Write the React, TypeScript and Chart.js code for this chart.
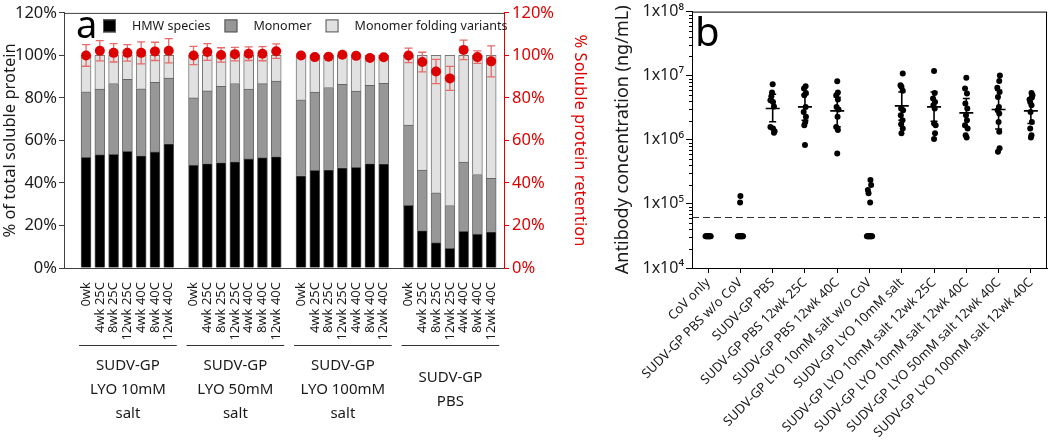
import React, { useEffect, useRef } from "react";
import { Chart, registerables } from "chart.js";

Chart.register(...registerables);

const FONT = '"Noto Sans", sans-serif';
const INK = "#1a1a1a";
const RED = "#e00000";

// ---------------- Panel a data ----------------
const timeLabels = ["0wk", "4wk 25C", "8wk 25C", "12wk 25C", "4wk 40C", "8wk 40C", "12wk 40C"];
const formulationLabels = [
  ["SUDV-GP", "LYO 10mM", "salt"],
  ["SUDV-GP", "LYO 50mM", "salt"],
  ["SUDV-GP", "LYO 100mM", "salt"],
  ["SUDV-GP", "PBS"],
];
const hmwSpecies = [
  52.1, 53.3, 53.5, 54.9, 52.9, 54.6, 58.4,
  48.4, 49.1, 49.6, 50.1, 51.3, 51.9, 52.4,
  43.4, 45.9, 46.2, 47.1, 47.3, 49.1, 49.0,
  29.5, 17.6, 11.9, 9.3, 17.3, 15.9, 17.0,
];
const monomer = [
  30.8, 30.9, 33.3, 33.9, 31.4, 32.7, 30.9,
  31.6, 34.2, 35.8, 36.7, 32.9, 34.8, 35.5,
  35.7, 36.9, 38.7, 39.3, 35.9, 36.8, 37.9,
  37.7, 28.5, 23.5, 20.1, 32.5, 28.1, 25.2,
];
const foldingVariants = [
  17.1, 15.8, 13.2, 11.2, 15.7, 12.7, 10.7,
  20.0, 16.7, 14.6, 13.2, 15.8, 13.3, 12.1,
  20.9, 17.2, 15.1, 13.6, 16.8, 14.1, 13.1,
  32.8, 53.9, 64.6, 70.6, 50.2, 56.0, 57.8,
];
const retention = [
  100, 102.2, 101.2, 101.2, 101.2, 101.9, 102.2,
  100, 101.6, 100.2, 100.6, 100.8, 100.8, 102.0,
  100, 99.2, 99.4, 100.3, 99.8, 98.8, 99.1,
  100, 96.9, 92.4, 89.2, 102.6, 99.2, 97.2,
];
const retentionErr = [
  5.1, 4.8, 4.3, 3.9, 5.2, 4.3, 5.7,
  4.3, 3.9, 3.4, 3.2, 3.2, 3.3, 3.4,
  0.8, 0.8, 0.8, 0.8, 0.8, 0.8, 0.8,
  3.4, 4.6, 5.7, 5.6, 4.6, 2.9, 7.3,
];
const pctTicks = [0, 20, 40, 60, 80, 100, 120];

// ---------------- Panel b data ----------------
const groupLabels = [
  "CoV only",
  "SUDV-GP PBS w/o CoV",
  "SUDV-GP PBS",
  "SUDV-GP PBS 12wk 25C",
  "SUDV-GP PBS 12wk 40C",
  "SUDV-GP LYO 10mM salt w/o CoV",
  "SUDV-GP LYO 10mM salt",
  "SUDV-GP LYO 10mM salt 12wk 25C",
  "SUDV-GP LYO 10mM salt 12wk 40C",
  "SUDV-GP LYO 50mM salt 12wk 40C",
  "SUDV-GP LYO 100mM salt 12wk 40C",
];
const HALF_LOD = 31250;
const pointValues = [
  [HALF_LOD, HALF_LOD, HALF_LOD, HALF_LOD, HALF_LOD, HALF_LOD, HALF_LOD, HALF_LOD, HALF_LOD],
  [133000, 105000, HALF_LOD, HALF_LOD, HALF_LOD, HALF_LOD, HALF_LOD, HALF_LOD, HALF_LOD, HALF_LOD, HALF_LOD],
  [7350000, 5460000, 4780000, 4140000, 3900000, 3300000, 1590000, 1500000, 1360000, 1290000],
  [6840000, 6300000, 5380000, 4950000, 3260000, 2720000, 2280000, 1900000, 1690000, 830000],
  [8200000, 5460000, 4950000, 4250000, 3260000, 2970000, 2280000, 1590000, 1420000, 610000],
  [236000, 197000, 165000, 147000, 105000, HALF_LOD, HALF_LOD, HALF_LOD, HALF_LOD, HALF_LOD, HALF_LOD, HALF_LOD, HALF_LOD, HALF_LOD],
  [10800000, 7100000, 6700000, 5800000, 3080000, 2900000, 2420000, 2020000, 1750000, 1500000, 1260000],
  [11800000, 5380000, 4400000, 3900000, 3470000, 3080000, 1800000, 1690000, 1260000, 1030000],
  [9300000, 6300000, 5270000, 3680000, 3080000, 2420000, 2020000, 1690000, 1500000, 1180000, 1090000],
  [10100000, 8300000, 6500000, 5570000, 4670000, 3260000, 2900000, 2570000, 1900000, 1330000, 735000, 650000],
  [5380000, 4950000, 4560000, 4250000, 3900000, 3470000, 2720000, 1900000, 1500000, 1180000, 1090000],
];
const pointJitter = [
  [-0.08, -0.06, -0.04, -0.02, 0, 0.02, 0.04, 0.06, 0.08],
  [0, -0.01, -0.08, -0.06, -0.04, -0.02, 0, 0.02, 0.04, 0.06, 0.08],
  [0, -0.02, -0.04, -0.07, 0.01, 0.04, -0.07, 0.01, 0.06, 0.04],
  [0.02, -0.03, 0.03, -0.02, 0.02, -0.04, 0.03, 0.01, -0.02, 0],
  [0, 0.02, -0.03, 0.02, -0.02, 0.04, 0.01, -0.03, 0.02, 0],
  [0.03, 0.05, -0.05, -0.03, 0.02, -0.08, -0.06, -0.04, -0.02, 0, 0.02, 0.04, 0.06, 0.08],
  [0.03, -0.04, -0.01, 0.03, -0.02, 0.04, -0.03, 0.02, -0.02, 0.03, -0.01],
  [0, 0.02, -0.03, 0.03, -0.02, 0.02, 0, 0.05, 0.03, 0],
  [0, -0.04, 0.02, -0.03, 0.03, -0.01, 0.02, -0.04, 0.04, -0.02, 0.01],
  [0.04, 0.02, -0.04, 0.03, -0.02, 0.01, -0.03, 0.02, 0, 0.02, 0.03, -0.02],
  [0.02, 0.05, 0.03, -0.04, -0.02, 0.02, -0.01, 0.03, -0.02, 0.02, 0],
];
const groupMean = [null, null, 3080000, 3260000, 2830000, null, 3380000, 3260000, 2630000, 2970000, 2830000];
const groupSdHigh = [null, null, 5140000, 5080000, 4600000, null, 5570000, 5570000, 4400000, 5930000, 4400000];
const groupSdLow = [null, null, 1910000, 2020000, 1590000, null, 2020000, 1950000, 1590000, 1470000, 1800000];
const LOD = 62500;
const logTickValues = [10000, 100000, 1000000, 10000000, 100000000];
const logTickLabels = ["1x10⁴", "1x10⁵", "1x10⁶", "1x10⁷", "1x10⁸"];
const minorMultipliers = [2, 3, 4, 5, 6, 7, 8, 9];

// ---------------- layout constants ----------------
const GROUP_STRIDE = 7.8;
const A_WIDTH = 595;
const B_LEFT = 595;
const B_WIDTH = 455;
const H = 442;

function PanelA() {
  const ref = useRef<HTMLCanvasElement | null>(null);
  useEffect(() => {
    const xs = hmwSpecies.map((_, k) => Math.floor(k / 7) * GROUP_STRIDE + (k % 7));
    const toXY = (arr: number[]) => arr.map((v, k) => ({ x: xs[k], y: v }));

    const errorBars = {
      id: "errorBars",
      beforeDatasetDraw(chart: any, args: any) {
        if (args.index !== 0) return;
        const ctx = chart.ctx;
        const x = chart.scales.x;
        const y = chart.scales.y2;
        ctx.save();
        ctx.strokeStyle = "#e86a6a";
        ctx.lineWidth = 1.3;
        retention.forEach((v, k) => {
          const e = retentionErr[k];
          const px = x.getPixelForValue(xs[k]);
          const t = y.getPixelForValue(v + e);
          const b = y.getPixelForValue(v - e);
          ctx.beginPath();
          ctx.moveTo(px, t);
          ctx.lineTo(px, b);
          ctx.moveTo(px - 4, t);
          ctx.lineTo(px + 4, t);
          ctx.moveTo(px - 4, b);
          ctx.lineTo(px + 4, b);
          ctx.stroke();
        });
        ctx.restore();
      },
    };

    const decorations = {
      id: "decorA",
      afterDraw(chart: any) {
        const ctx = chart.ctx;
        const { left, right, top, bottom } = chart.chartArea;
        const x = chart.scales.x;
        ctx.save();
        // top frame line
        ctx.strokeStyle = "#404040";
        ctx.lineWidth = 1;
        ctx.beginPath();
        ctx.moveTo(left, top + 0.5);
        ctx.lineTo(right, top + 0.5);
        ctx.stroke();
        // panel letter
        ctx.fillStyle = "#000";
        ctx.font = `38px ${FONT}`;
        ctx.textAlign = "left";
        ctx.textBaseline = "alphabetic";
        ctx.fillText("a", left + 12, top + 25);
        // inside legend
        ctx.font = `12.5px ${FONT}`;
        ctx.textBaseline = "middle";
        let lx = left + 39;
        const ly = top + 13;
        chart.data.datasets.forEach((ds: any) => {
          if (ds.type !== "bar") return;
          ctx.fillStyle = ds.backgroundColor;
          ctx.fillRect(lx, ly - 6.5, 13, 13);
          ctx.strokeStyle = "#555";
          ctx.strokeRect(lx + 0.5, ly - 6, 12, 12);
          ctx.fillStyle = INK;
          ctx.fillText(ds.label, lx + 29, ly + 0.5);
          lx += 29 + ctx.measureText(ds.label).width + 14;
        });
        // formulation group lines and labels
        ctx.font = `15px ${FONT}`;
        ctx.textAlign = "center";
        ctx.textBaseline = "middle";
        formulationLabels.forEach((lines, g) => {
          const x1 = x.getPixelForValue(xs[g * 7]) - 7;
          const x2 = x.getPixelForValue(xs[g * 7 + 6]) + 8;
          const ly2 = bottom + 77.5;
          ctx.strokeStyle = "#333";
          ctx.lineWidth = 1.2;
          ctx.beginPath();
          ctx.moveTo(x1, ly2);
          ctx.lineTo(x2, ly2);
          ctx.stroke();
          const cx = (x1 + x2) / 2;
          const cy = bottom + 122;
          lines.forEach((t, i) => {
            ctx.fillStyle = INK;
            ctx.fillText(t, cx, cy + (i - (lines.length - 1) / 2) * 24);
          });
        });
        ctx.restore();
      },
    };

    const chart = new Chart(ref.current as HTMLCanvasElement, {
      type: "bar",
      data: {
        datasets: [
          {
            type: "line",
            label: "% Soluble protein retention",
            data: toXY(retention),
            yAxisID: "y2",
            showLine: false,
            pointRadius: 5,
            pointBackgroundColor: "#dd0000",
            pointBorderColor: "#dd0000",
            pointBorderWidth: 0,
          } as any,
          {
            type: "bar",
            label: "HMW species",
            data: toXY(hmwSpecies),
            yAxisID: "y",
            backgroundColor: "#000000",
            borderColor: "#555555",
            borderWidth: 1,
            barThickness: 10,
          },
          {
            type: "bar",
            label: "Monomer",
            data: toXY(monomer),
            yAxisID: "y",
            backgroundColor: "#979797",
            borderColor: "#666666",
            borderWidth: 1,
            barThickness: 10,
          },
          {
            type: "bar",
            label: "Monomer folding variants",
            data: toXY(foldingVariants),
            yAxisID: "y",
            backgroundColor: "#e1e1e1",
            borderColor: "#777777",
            borderWidth: 1,
            barThickness: 10,
          },
        ],
      },
      options: {
        animation: false,
        responsive: false,
        devicePixelRatio: 1,
        layout: { padding: { top: 10, left: 0, right: 0, bottom: 0 } },
        plugins: { legend: { display: false }, tooltip: { enabled: false } },
        scales: {
          x: {
            type: "linear",
            min: -1.6,
            max: 30.33,
            stacked: true,
            offset: false,
            grid: { display: false },
            border: { display: true, color: "#404040" },
            afterBuildTicks: (s: any) => {
              s.ticks = xs.map((v) => ({ value: v }));
            },
            afterFit: (s: any) => {
              s.height = H - 268;
            },
            ticks: {
              autoSkip: false,
              minRotation: 90,
              maxRotation: 90,
              padding: 6,
              color: INK,
              font: { family: FONT, size: 13 },
              callback: (_v: any, i: number) => timeLabels[i % timeLabels.length],
            },
          },
          y: {
            type: "linear",
            position: "left",
            min: 0,
            max: 120,
            stacked: true,
            afterBuildTicks: (s: any) => {
              s.ticks = pctTicks.map((v) => ({ value: v }));
            },
            afterFit: (s: any) => {
              s.width = 64;
            },
            grid: { drawOnChartArea: false, drawTicks: true, tickLength: 5, color: "#404040" },
            border: { color: "#404040" },
            ticks: {
              padding: 2,
              color: INK,
              font: { family: FONT, size: 16.5 },
              callback: (v: any) => `${v}%`,
            },
            title: {
              display: true,
              text: "% of total soluble protein",
              color: INK,
              font: { family: FONT, size: 16.5 },
              padding: 0,
            },
          },
          y2: {
            type: "linear",
            position: "right",
            min: 0,
            max: 120,
            afterBuildTicks: (s: any) => {
              s.ticks = pctTicks.map((v) => ({ value: v }));
            },
            afterFit: (s: any) => {
              s.width = A_WIDTH - 504;
            },
            grid: { drawOnChartArea: false, drawTicks: true, tickLength: 5, color: RED },
            border: { color: RED },
            ticks: {
              padding: 3,
              color: RED,
              font: { family: FONT, size: 16.5 },
              callback: (v: any) => `${v}%`,
            },
            title: {
              display: true,
              text: "% Soluble protein retention",
              color: RED,
              font: { family: FONT, size: 16.5 },
              padding: 5,
            },
          },
        },
      } as any,
      plugins: [errorBars, decorations],
    });
    return () => chart.destroy();
  }, []);
  return (
    <canvas
      ref={ref}
      width={A_WIDTH}
      height={H}
      style={{ position: "absolute", left: 0, top: 0, width: A_WIDTH, height: H }}
    />
  );
}

function PanelB() {
  const ref = useRef<HTMLCanvasElement | null>(null);
  useEffect(() => {
    const points: { x: number; y: number }[] = [];
    pointValues.forEach((vals, g) => {
      vals.forEach((v, i) => points.push({ x: g + pointJitter[g][i], y: v }));
    });
    const isDecade = (v: number) => logTickValues.some((d) => Math.abs(d - v) / d < 1e-6);
    const allLogTicks: number[] = [];
    logTickValues.forEach((d, i) => {
      allLogTicks.push(d);
      if (i < logTickValues.length - 1) minorMultipliers.forEach((m) => allLogTicks.push(m * d));
    });

    const decor = {
      id: "decorB",
      beforeDatasetsDraw(chart: any) {
        const ctx = chart.ctx;
        const { left, right } = chart.chartArea;
        const y = chart.scales.y;
        const py = Math.round(y.getPixelForValue(LOD)) + 0.5;
        ctx.save();
        ctx.strokeStyle = "#333";
        ctx.lineWidth = 1;
        ctx.setLineDash([7, 4]);
        ctx.beginPath();
        ctx.moveTo(left, py);
        ctx.lineTo(right, py);
        ctx.stroke();
        ctx.restore();
      },
      afterDatasetsDraw(chart: any) {
        const ctx = chart.ctx;
        const x = chart.scales.x;
        const y = chart.scales.y;
        ctx.save();
        ctx.strokeStyle = "#000";
        ctx.lineWidth = 1.6;
        groupMean.forEach((m, g) => {
          if (m === null) return;
          const px = x.getPixelForValue(g);
          const pm = y.getPixelForValue(m);
          const ph = y.getPixelForValue(groupSdHigh[g] as number);
          const pl = y.getPixelForValue(groupSdLow[g] as number);
          ctx.beginPath();
          ctx.moveTo(px - 7, pm);
          ctx.lineTo(px + 7, pm);
          ctx.moveTo(px, ph);
          ctx.lineTo(px, pl);
          ctx.moveTo(px - 3.5, ph);
          ctx.lineTo(px + 3.5, ph);
          ctx.moveTo(px - 3.5, pl);
          ctx.lineTo(px + 3.5, pl);
          ctx.stroke();
        });
        ctx.restore();
      },
      afterDraw(chart: any) {
        const ctx = chart.ctx;
        const { left, right, top, bottom } = chart.chartArea;
        const y = chart.scales.y;
        ctx.save();
        ctx.strokeStyle = "#000";
        ctx.lineWidth = 1;
        ctx.strokeRect(left + 0.5, top + 0.5, right - left - 1, bottom - top);
        // minor ticks
        ctx.beginPath();
        allLogTicks.forEach((v) => {
          if (isDecade(v)) return;
          const py = Math.round(y.getPixelForValue(v)) + 0.5;
          ctx.moveTo(left - 3, py);
          ctx.lineTo(left, py);
        });
        ctx.stroke();
        ctx.fillStyle = "#000";
        ctx.font = `40px ${FONT}`;
        ctx.textAlign = "left";
        ctx.textBaseline = "alphabetic";
        ctx.fillText("b", left + 3, top + 34);
        ctx.restore();
      },
    };

    const chart = new Chart(ref.current as HTMLCanvasElement, {
      type: "scatter",
      data: {
        datasets: [
          {
            data: points,
            pointRadius: 3,
            pointHoverRadius: 3,
            pointBackgroundColor: "#000",
            pointBorderWidth: 0,
          },
        ],
      },
      options: {
        animation: false,
        responsive: false,
        devicePixelRatio: 1,
        layout: { padding: { top: 11, right: 1, left: 0, bottom: 0 } },
        plugins: { legend: { display: false }, tooltip: { enabled: false } },
        scales: {
          x: {
            type: "linear",
            min: -0.5,
            max: groupLabels.length - 0.5,
            offset: false,
            afterBuildTicks: (s: any) => {
              s.ticks = groupLabels.map((_, i) => ({ value: i }));
            },
            afterFit: (s: any) => {
              s.height = H - 268;
            },
            grid: { drawOnChartArea: false, drawTicks: true, tickLength: 5, color: "#000" },
            border: { color: "#000" },
            ticks: {
              autoSkip: false,
              minRotation: 45,
              maxRotation: 45,
              padding: 2,
              color: INK,
              font: { family: FONT, size: 13 },
              callback: (_v: any, i: number) => groupLabels[i],
            },
          },
          y: {
            type: "logarithmic",
            min: 10000,
            max: 100000000,
            afterBuildTicks: (s: any) => {
              s.ticks = allLogTicks.map((v) => ({ value: v }));
            },
            afterFit: (s: any) => {
              s.width = 97;
            },
            grid: {
              drawOnChartArea: false,
              drawTicks: true,
              tickLength: 6,
              tickColor: (c: any) => (c.tick && isDecade(c.tick.value) ? "#000" : "rgba(0,0,0,0)"),
            },
            border: { color: "#000" },
            ticks: {
              autoSkip: false,
              padding: 2,
              color: INK,
              font: { family: FONT, size: 16 },
              callback: (v: any) => {
                const idx = logTickValues.findIndex((d) => Math.abs(d - v) / d < 1e-6);
                return idx >= 0 ? logTickLabels[idx] : "";
              },
            },
            title: {
              display: true,
              text: "Antibody concentration (ng/mL)",
              color: INK,
              font: { family: FONT, size: 18 },
              padding: { top: 17, bottom: 0 },
            },
          },
        },
      } as any,
      plugins: [decor],
    });
    return () => chart.destroy();
  }, []);
  return (
    <canvas
      ref={ref}
      width={B_WIDTH}
      height={H}
      style={{ position: "absolute", left: B_LEFT, top: 0, width: B_WIDTH, height: H }}
    />
  );
}

export default function App() {
  return (
    <div
      style={{
        position: "absolute",
        left: 0,
        top: 0,
        width: 1050,
        height: H,
        background: "#fff",
        overflow: "hidden",
      }}
    >
      <PanelA />
      <PanelB />
    </div>
  );
}
